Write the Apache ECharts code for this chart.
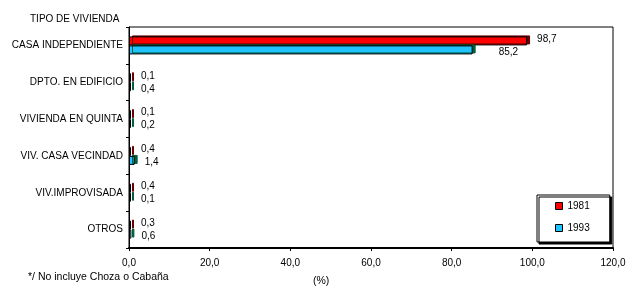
<!DOCTYPE html>
<html><head><meta charset="utf-8">
<script src="https://cdn.jsdelivr.net/npm/echarts@6/dist/echarts.min.js"></script>
<style>html,body{margin:0;padding:0;background:#fff}#c{width:637px;height:295px}</style>
</head><body><div id="c"></div>
<script>
const categories = ['CASA INDEPENDIENTE','DPTO. EN EDIFICIO','VIVIENDA EN QUINTA','VIV. CASA VECINDAD','VIV.IMPROVISADA','OTROS'];
const values1981 = [98.7, 0.1, 0.1, 0.4, 0.4, 0.3];
const values1993 = [85.2, 0.4, 0.2, 1.4, 0.1, 0.6];
const xTicks = [0, 20, 40, 60, 80, 100, 120];

const FONT = 'Liberation Sans';
const fmt = v => Number(v).toFixed(1).replace('.', ',');
const chart = echarts.init(document.getElementById('c'), null, {renderer:'canvas'});
chart.setOption({
  animation: false,
  textStyle: {fontFamily: FONT, color: '#000'},
  title: {text: 'TIPO DE VIVIENDA', left: 25, top: 9, textStyle: {fontFamily: FONT, fontSize: 10, fontWeight: 'normal', color: '#000'}},
  grid: {left: 129, right: 24, top: 27, bottom: 47, show: true, borderColor: '#000', borderWidth: 1, backgroundColor: 'transparent'},
  legend: {
    orient: 'vertical', left: 537, top: 195,
    padding: [6, 20, 9, 18], itemGap: 12,
    itemWidth: 7, itemHeight: 7, icon: 'rect',
    backgroundColor: '#fff', borderColor: '#000', borderWidth: 1,
    shadowColor: '#000', shadowOffsetX: 2, shadowOffsetY: 2, shadowBlur: 0,
    textStyle: {fontFamily: FONT, fontSize: 10, color: '#000'},
    itemStyle: {borderColor: '#000', borderWidth: 1, shadowBlur: 0, shadowOffsetX: 0, shadowOffsetY: 0, shadowColor: 'transparent'},
    data: ['1981', '1993']
  },
  xAxis: {
    type: 'value', min: xTicks[0], max: xTicks[xTicks.length-1], interval: 20,
    splitLine: {show: false},
    axisLine: {show: true, lineStyle: {color: '#000', width: 2}},
    axisTick: {show: true, length: 3, lineStyle: {color: '#000'}},
    axisLabel: {formatter: fmt, fontFamily: FONT, fontSize: 10, color: '#000', margin: 10}
  },
  yAxis: {
    type: 'category', data: categories, inverse: true,
    axisLine: {show: true, lineStyle: {color: '#000', width: 1}},
    axisTick: {show: true, length: 3, lineStyle: {color: '#000'}},
    axisLabel: {fontFamily: FONT, fontSize: 10, color: '#000', margin: 6}
  },
  series: [
    {name: '1981', type: 'bar', data: values1981, barWidth: 9, barGap: '0%', barMinHeight: 2,
     itemStyle: {color: '#ff0000', borderColor: '#000', borderWidth: 1, shadowColor: '#6a0000', shadowOffsetX: 3, shadowOffsetY: -1, shadowBlur: 0},
     label: {show: true, position: 'right', distance: 10, offset: [0, -2], formatter: p => fmt(p.value), fontFamily: FONT, fontSize: 10, color: '#000'}},
    {name: '1993', type: 'bar', data: values1993, barWidth: 9, barMinHeight: 2,
     itemStyle: {color: '#20c4ff', borderColor: '#000', borderWidth: 1, shadowColor: '#005f3c', shadowOffsetX: 3, shadowOffsetY: -1, shadowBlur: 0},
     label: {show: true, position: 'right', distance: 10, offset: [0, 2],
       formatter: p => (p.value > 50 ? '{far|' + fmt(p.value) + '}' : fmt(p.value)),
       rich: {far: {fontFamily: FONT, fontSize: 10, color: '#000', padding: [0, 0, 0, 16]}},
       fontFamily: FONT, fontSize: 10, color: '#000'}}
  ],
  graphic: [
    {type: 'text', left: 28, top: 272, style: {text: '*/ No incluye Choza o Cabaña', fontFamily: FONT, fontSize: 10.5, fill: '#000'}},
    {type: 'text', left: 313, top: 276, style: {text: '(%)', fontFamily: FONT, fontSize: 10.5, fill: '#000'}}
  ]
});
</script></body></html>
